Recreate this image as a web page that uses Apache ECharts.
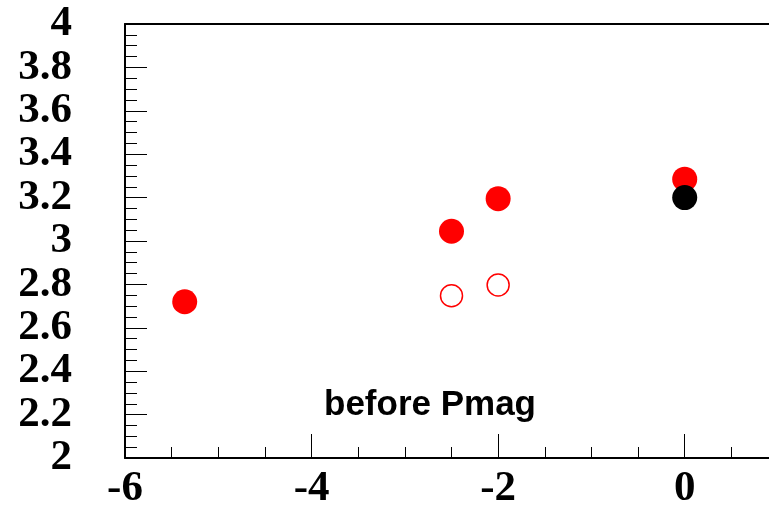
<!DOCTYPE html>
<html>
<head>
<meta charset="utf-8">
<script src="https://cdn.jsdelivr.net/npm/echarts@6/dist/echarts.min.js"></script>
<style>html,body{margin:0;padding:0;background:#fff;overflow:hidden;width:769px;height:510px;}#c{width:781px;height:510px;}</style>
</head>
<body>
<div id="c"></div>
<script>
var filledRedX = [-5.36, -2.5, -2.0, 0.0];
var filledRedY = [2.72, 3.045, 3.195, 3.285];
var openRedX = [-2.5, -2.0];
var openRedY = [2.748, 2.797];
var blackX = [0.0];
var blackY = [3.2];
var annotation = 'before Pmag';

function pairs(xs, ys) { return xs.map(function (x, i) { return [x, ys[i]]; }); }

var chart = echarts.init(document.getElementById('c'), null, {renderer: 'canvas'});
var labelFont = {fontFamily: 'Liberation Serif', fontWeight: 'bold', fontSize: 43, color: '#000'};
chart.setOption({
  animation: false,
  backgroundColor: '#fff',
  grid: {left: 125, top: 24, right: 0, bottom: 50, containLabel: false},
  xAxis: [{
    type: 'value', min: -6, max: 1, interval: 2, position: 'bottom',
    axisLine: {show: true, onZero: false, lineStyle: {color: '#000', width: 2}},
    axisTick: {show: true, inside: true, length: 24, lineStyle: {color: '#000', width: 1}},
    minorTick: {show: true, splitNumber: 4, length: 11, lineStyle: {color: '#000', width: 1}},
    splitLine: {show: false},
    axisLabel: Object.assign({margin: 9, formatter: function (v) { return v > 0.5 ? '' : String(v); }}, labelFont)
  }, {
    type: 'value', min: -6, max: 1, position: 'top',
    axisLine: {show: true, onZero: false, lineStyle: {color: '#000', width: 2}},
    axisTick: {show: false}, axisLabel: {show: false}, splitLine: {show: false}
  }],
  yAxis: [{
    type: 'value', min: 2, max: 4, interval: 0.2,
    axisLine: {show: true, onZero: false, lineStyle: {color: '#000', width: 2}},
    axisTick: {show: true, inside: true, length: 22, lineStyle: {color: '#000', width: 1}},
    minorTick: {show: true, splitNumber: 4, length: 12, lineStyle: {color: '#000', width: 1}},
    splitLine: {show: false},
    axisLabel: Object.assign({margin: 53, formatter: function (v) { return String(Math.round(v * 10) / 10); }}, labelFont)
  }],
  series: [{
    type: 'scatter', data: pairs(filledRedX, filledRedY), symbol: 'circle', symbolSize: 25,
    itemStyle: {color: '#ff0000', opacity: 1}, z: 2
  }, {
    type: 'scatter', data: pairs(openRedX, openRedY), symbol: 'circle', symbolSize: 22,
    itemStyle: {color: 'rgba(255,255,255,0)', borderColor: '#ff0000', borderWidth: 1.5, opacity: 1}, z: 2
  }, {
    type: 'scatter', data: pairs(blackX, blackY), symbol: 'circle', symbolSize: 25,
    itemStyle: {color: '#000000', opacity: 1}, z: 3
  }],
  graphic: [{
    type: 'text', x: 430, y: 405,
    style: {text: annotation, font: 'bold 35px "Liberation Sans"', fill: '#000', align: 'center', verticalAlign: 'middle'}
  }]
});
</script>
</body>
</html>
